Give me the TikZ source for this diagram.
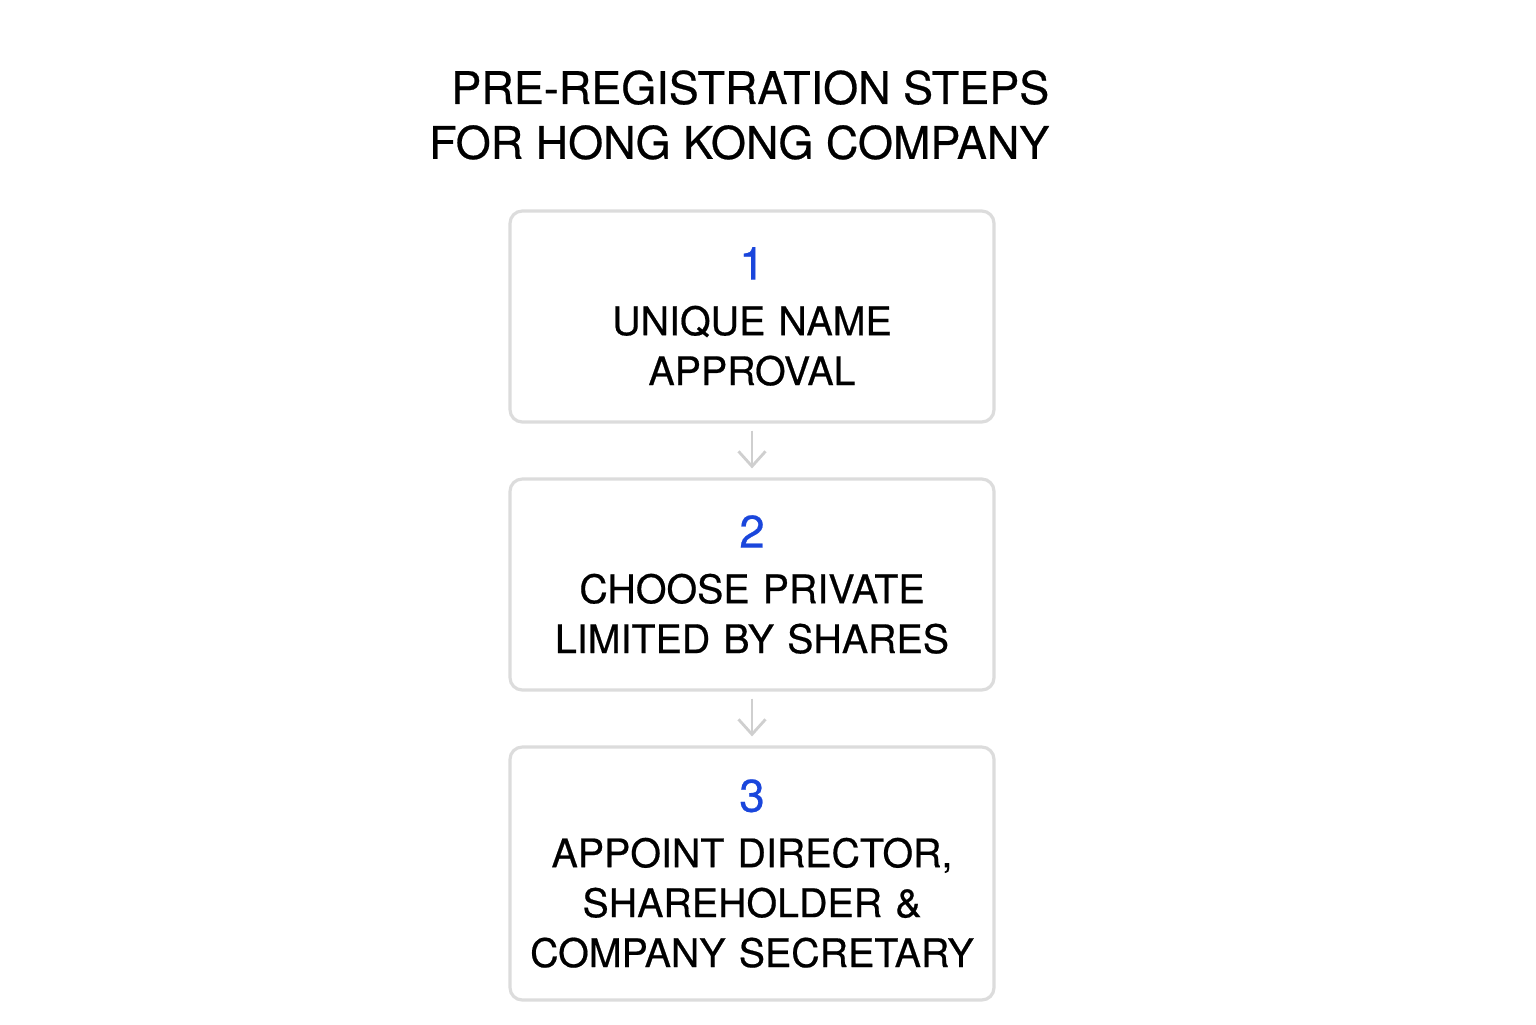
\documentclass[tikz,border=0pt]{standalone}
\usepackage{fontspec}
\setmainfont{TeX Gyre Heros}[FakeBold=0.5]
\usepackage{tikz}
\usetikzlibrary{arrows.meta}

\definecolor{stepblue}{HTML}{1A46DC}
\definecolor{boxgray}{HTML}{DCDCDC}
\definecolor{arrowgray}{HTML}{CFCFCF}

\tikzset{
	stepbox/.style={rectangle,draw=boxgray,line width=0.9pt,rounded corners=3.5pt,
		fill=white,minimum width=4.84cm,text width=4.7cm,inner xsep=0.7mm,align=center,
		font=\fontsize{11.2}{14.2}\selectfont},
	steparrow/.style={draw=arrowgray,line width=0.8pt,
		-{Straight Barb[length=1.5mm,width=2.7mm]},shorten <=0.07cm,shorten >=0.09cm}
}

\newcommand{\stepnum}[1]{{\fontsize{13}{14}\selectfont\textcolor{stepblue}{#1}}\\[1.6pt]}

\begin{document}
\begin{tikzpicture}
		\useasboundingbox (0,0) rectangle (15.36,10.24);
		\fill[white] (0,0) rectangle (15.36,10.24);
%		\draw[help lines] (0,0) grid (15,10);
		% title
		\path (10.5,9.09) node(title) [left,align=right,inner sep=0pt,
			font=\fontsize{12.8}{15.6}\selectfont] {PRE-REGISTRATION STEPS\\FOR HONG KONG COMPANY};
		% steps
		\path (7.52,7.075) node(name) [stepbox,minimum height=2.11cm] {\stepnum{1}UNIQUE NAME\\APPROVAL};
		\path (7.52,4.395) node(type) [stepbox,minimum height=2.11cm] {\stepnum{2}CHOOSE PRIVATE\\LIMITED BY SHARES};
		\path (7.52,1.505) node(officers) [stepbox,minimum height=2.53cm] {\stepnum{3}APPOINT DIRECTOR,\\SHAREHOLDER \&\\COMPANY SECRETARY};
		% flow
		\draw[steparrow] (name) -- (type);
		\draw[steparrow] (type) -- (officers);
	\end{tikzpicture}
\end{document}
